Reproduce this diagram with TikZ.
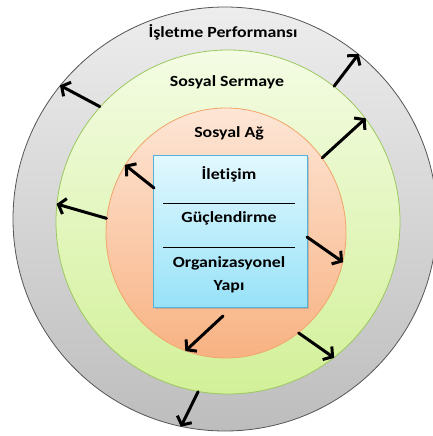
\documentclass[tikz,border=0pt]{standalone}
\usepackage{fontspec}
\setmainfont{Carlito}[Ligatures=NoCommon, FakeStretch=1.15]
\usetikzlibrary{arrows.meta,shapes.geometric,shadows}
\definecolor{ringgray}{HTML}{555555}
\definecolor{graytop}{HTML}{EDEDED}
\definecolor{graybot}{HTML}{BDBDBD}
\definecolor{greenline}{HTML}{9CC860}
\definecolor{greentop}{HTML}{F4FCE4}
\definecolor{greenbot}{HTML}{D2F098}
\definecolor{orangeline}{HTML}{F2A46A}
\definecolor{orangetop}{HTML}{FDE6D6}
\definecolor{orangebot}{HTML}{F8B282}
\definecolor{boxline}{HTML}{55B2DA}
\definecolor{boxtop}{HTML}{E2F8FE}
\definecolor{boxbot}{HTML}{98E2F8}
\tikzset{
  ring/.style={circle, inner sep=0pt, line width=0.8pt},
  lbl/.style={font=\bfseries\fontsize{15.5}{18}\selectfont, text=black, inner sep=0pt},
  push/.style={line width=3pt, -{Straight Barb[length=6.5pt,width=16pt,line width=3pt]}, line cap=round},
  sep/.style={line width=0.9pt, black}
}
\begin{document}
\begin{tikzpicture}[x=1pt,y=-1pt]
\useasboundingbox (0,0) rectangle (433,436);
% nested rings
\node[ring, draw=ringgray, top color=graytop, bottom color=graybot, minimum size=424pt] (perf) at (225,219) {};
\node[ring, draw=greenline, top color=greentop, bottom color=greenbot, minimum size=344pt] (capital) at (228,222) {};
\node[ellipse, inner sep=0pt, line width=0.8pt, draw=orangeline, top color=orangetop, bottom color=orangebot, minimum width=240pt, minimum height=250pt] (network) at (226,233) {};
% central box
\node[rectangle, draw=boxline, line width=1pt, top color=boxtop, bottom color=boxbot,
      minimum width=154pt, minimum height=152pt, inner sep=0pt,
      drop shadow={shadow xshift=1.5pt, shadow yshift=-1.5pt, opacity=0.35}] (core) at (230,231) {};
\draw[sep] (163,203) -- (295,203);
\draw[sep] (163,247) -- (295,247);
% labels
\node[lbl] (tperf) at (223,32) {İşletme Performansı};
\node[lbl] (tcap) at (227,82) {Sosyal Sermaye};
\node[lbl] (tnet) at (229,133) {Sosyal Ağ};
\node[lbl] (t1) at (229,174) {İletişim};
\node[lbl] (t2) at (229,218) {Güçlendirme};
\node[lbl] (t3) at (229,263) {Organizasyonel};
\node[lbl] (t4) at (229,287) {Yapı};
% outward arrows
\coordinate (a4) at (154,188);
\coordinate (a6) at (307,237);
\coordinate (a7) at (223,316);
\draw[push] (capital.138) -- (perf.141.8);
\draw[push] (capital.52.7) -- (perf.51.3);
\draw[push] (network.38) -- (capital.37.8);
\draw[push] (a4) -- (network.146);
\draw[push] (network.173) -- (capital.174);
\draw[push] (a6) -- (network.-14.3);
\draw[push] (a7) -- (network.-109.8);
\draw[push] (network.-54.5) -- (capital.-52.8);
\draw[push] (capital.-100.5) -- (perf.-102.7);
\end{tikzpicture}
\end{document}
